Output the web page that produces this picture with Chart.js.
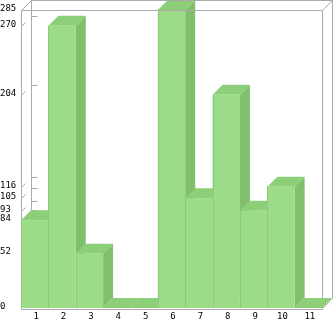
<!DOCTYPE html>
<html>
<head>
<meta charset="utf-8">
<script src="https://cdn.jsdelivr.net/npm/chart.js@4/dist/chart.umd.min.js"></script>
<style>
html,body{margin:0;padding:0;background:#fff;}
#c{display:block;}
</style>
</head>
<body>
<canvas id="c" width="333" height="321"></canvas>
<script>
const categories = ['1','2','3','4','5','6','7','8','9','10','11'];
const values = [84, 270, 52, 0, 0, 285, 105, 204, 93, 116, 0];
const yTicks = [0, 52, 84, 93, 105, 116, 204, 270, 285];

const DEPTH = 10;
const FRAME = '#aaaaaa';
const FRONT = '#9cdc88';
const TOP = '#8dce79';
const SIDE = '#80c06c';
const EDGE = '#8cca79';

function line(ctx, x1, y1, x2, y2) {
  ctx.beginPath();
  ctx.moveTo(x1, y1);
  ctx.lineTo(x2, y2);
  ctx.stroke();
}

const bars3d = {
  id: 'bars3d',
  beforeDatasetsDraw(chart) {
    const ctx = chart.ctx;
    const a = chart.chartArea;
    const ys = chart.scales.y;
    const L = Math.round(a.left) + 0.5, R = Math.round(a.right) + 0.5;
    const T = Math.round(a.top) + 0.5, B = Math.round(a.bottom) + 0.5;
    ctx.save();
    ctx.strokeStyle = FRAME;
    ctx.lineWidth = 1;
    line(ctx, L + DEPTH, T - DEPTH, L + DEPTH, B - DEPTH);
    line(ctx, R + DEPTH, T - DEPTH, R + DEPTH, B - DEPTH);
    line(ctx, L, T, L, B);
    line(ctx, R, T, R, B);
    line(ctx, L, B + 1, R, B + 1);
    line(ctx, L, T, L + DEPTH, T - DEPTH);
    line(ctx, R, T, R + DEPTH, T - DEPTH);
    line(ctx, R, B, R + DEPTH, B - DEPTH);
    line(ctx, L, B, L + DEPTH, B - DEPTH);
    yTicks.forEach(v => {
      const y = Math.round(ys.getPixelForValue(v)) + 0.5;
      if (v !== 0 && v !== 285) {
        line(ctx, L + DEPTH, y - DEPTH, L + DEPTH + 6, y - DEPTH);
      }
      line(ctx, L, y, L + 4, y - 4);
    });
    ctx.restore();
  },
  afterDatasetsDraw(chart) {
    const ctx = chart.ctx;
    const meta = chart.getDatasetMeta(0);
    const a = chart.chartArea;
    ctx.save();
    meta.data.forEach(el => {
      const w = el.width;
      const x0 = el.x - w / 2, x1 = el.x + w / 2;
      const yt = el.y, yb = el.base;
      ctx.fillStyle = SIDE;
      ctx.beginPath();
      ctx.moveTo(x1, yb);
      ctx.lineTo(x1 + DEPTH, yb - DEPTH);
      ctx.lineTo(x1 + DEPTH, yt - DEPTH);
      ctx.lineTo(x1, yt);
      ctx.closePath();
      ctx.fill();
      ctx.fillStyle = TOP;
      ctx.beginPath();
      ctx.moveTo(x0, yt);
      ctx.lineTo(x0 + DEPTH, yt - DEPTH);
      ctx.lineTo(x1 + DEPTH, yt - DEPTH);
      ctx.lineTo(x1, yt);
      ctx.closePath();
      ctx.fill();
      if (yb - yt > 0.5) {
        ctx.fillStyle = FRONT;
        ctx.fillRect(x0, yt, w, yb - yt);
        ctx.strokeStyle = EDGE;
        ctx.lineWidth = 1;
        line(ctx, Math.round(x0) + 0.5, yt, Math.round(x0) + 0.5, yb);
      }
    });
    const L = Math.round(a.left) + 0.5, R = Math.round(a.right) + 0.5;
    const T = Math.round(a.top) + 0.5;
    ctx.strokeStyle = FRAME;
    line(ctx, L, T, R, T);
    line(ctx, L + DEPTH, T - DEPTH, R + DEPTH, T - DEPTH);
    ctx.restore();
  }
};

new Chart(document.getElementById('c'), {
  type: 'bar',
  data: {
    labels: categories,
    datasets: [{
      data: values,
      backgroundColor: 'rgba(0,0,0,0)',
      borderWidth: 0,
      categoryPercentage: 1,
      barPercentage: 1
    }]
  },
  options: {
    responsive: false,
    animation: false,
    events: [],
    layout: { padding: { top: 10, right: 11, left: 0, bottom: 0 } },
    plugins: { legend: { display: false }, tooltip: { enabled: false } },
    scales: {
      x: {
        grid: { display: false, drawTicks: false },
        border: { display: false },
        ticks: { color: '#000', font: { family: 'DejaVu Sans Mono', size: 9 }, padding: 3, labelOffset: 1.5, maxRotation: 0, autoSkip: false },
        afterFit(s) { s.height = 13; }
      },
      y: {
        min: 0, max: 285,
        grid: { display: false, drawTicks: false },
        border: { display: false },
        afterBuildTicks(s) { s.ticks = yTicks.map(v => ({ value: v })); },
        afterFit(s) { s.width = 21; },
        ticks: { color: '#000', font: { family: 'DejaVu Sans Mono', size: 9 }, padding: 2, labelOffset: -1.5, crossAlign: 'far' }
      }
    }
  },
  plugins: [bars3d]
});
</script>
</body>
</html>
